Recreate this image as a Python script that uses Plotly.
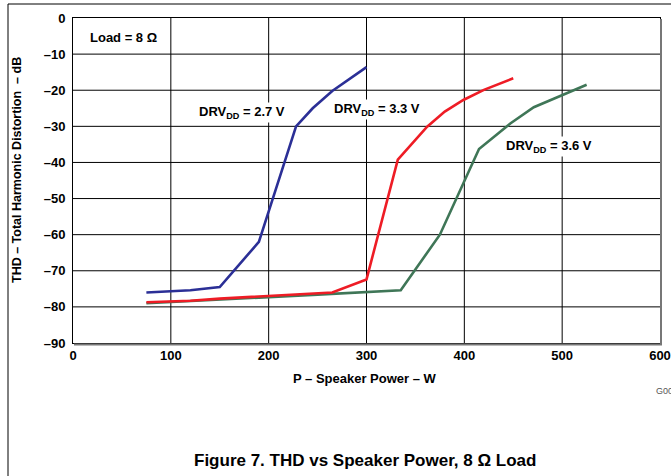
import plotly.graph_objects as go

# Data
x_27 = [75, 120, 150, 190, 228, 245, 265, 300]
y_27 = [-76, -75.4, -74.5, -62, -30, -25, -20.2, -13.6]

x_33 = [75, 120, 150, 200, 265, 300, 332, 362, 380, 399, 420, 450]
y_33 = [-78.7, -78.3, -77.7, -76.9, -76, -72.4, -39.2, -30.1, -25.9, -22.7, -19.9, -16.7]

x_36 = [75, 150, 200, 250, 300, 335, 375, 415, 447, 471, 498, 525]
y_36 = [-79, -78.1, -77.3, -76.6, -76, -75.4, -60, -36.3, -29.2, -24.7, -21.6, -18.5]

x_ticks = [0, 100, 200, 300, 400, 500, 600]
y_ticks = [0, -10, -20, -30, -40, -50, -60, -70, -80, -90]
y_ticktext = ["0" if v == 0 else "\u2013" + str(-v) for v in y_ticks]

W, H = 671, 476
L, R, T, B = 73, 11, 18, 133
pw, ph = W - L - R, H - T - B

def px(xp):
    return (xp - L) / pw

def py(yp):
    return 1 - (yp - T) / ph

FONT = "Liberation Sans, Arial, sans-serif"

fig = go.Figure()
fig.add_trace(go.Scatter(x=x_27, y=y_27, mode="lines", line=dict(color="#2b2f96", width=2.6), showlegend=False, hoverinfo="skip"))
fig.add_trace(go.Scatter(x=x_36, y=y_36, mode="lines", line=dict(color="#3f7657", width=2.6), showlegend=False, hoverinfo="skip"))
fig.add_trace(go.Scatter(x=x_33, y=y_33, mode="lines", line=dict(color="#ee1c25", width=2.6), showlegend=False, hoverinfo="skip"))

axis_common = dict(
    showgrid=False,
    showline=True, linecolor="black", linewidth=1, mirror=True,
    zeroline=False, ticks="", automargin=False, fixedrange=True,
    tickfont=dict(family=FONT, size=13, color="black", weight="bold"),
)

fig.update_xaxes(range=[0, 600], tickmode="array", tickvals=x_ticks, **axis_common)
fig.update_yaxes(range=[-90, 0], tickmode="array", tickvals=y_ticks, ticktext=y_ticktext, ticklabelstandoff=4, **axis_common)

anns = [
    dict(x=15, y=-5.5, text="<b>Load = 8 \u03a9</b>", xanchor="left", xref="x", yref="y"),
    dict(x=173, y=-26.3, text="<b>DRV<sub>DD</sub> = 2.7 V</b>", xanchor="center", xref="x", yref="y", bgcolor="white"),
    dict(x=311, y=-25.3, text="<b>DRV<sub>DD</sub> = 3.3 V</b>", xanchor="center", xref="x", yref="y", bgcolor="white"),
    dict(x=487, y=-35.6, text="<b>DRV<sub>DD</sub> = 3.6 V</b>", xanchor="center", xref="x", yref="y", bgcolor="white"),
]
for a in anns:
    fig.add_annotation(showarrow=False, font=dict(family=FONT, size=13, color="black"), **a)

# axis titles
fig.add_annotation(x=px(365), y=py(378), xref="paper", yref="paper", showarrow=False,
                   text="<b>P \u2013 Speaker Power \u2013 W</b>",
                   font=dict(family=FONT, size=13, color="black"), xanchor="center", yanchor="middle")
fig.add_annotation(x=px(17), y=py(170), xref="paper", yref="paper", showarrow=False, textangle=-90,
                   text="<b>THD \u2013 Total Harmonic Distortion\u00a0\u00a0\u2013 dB</b>",
                   font=dict(family=FONT, size=12.5, color="black"), xanchor="center", yanchor="middle")

fig.add_annotation(x=px(365), y=py(460), xref="paper", yref="paper", showarrow=False,
                   text="<b>Figure 7. THD vs Speaker Power, 8 \u03a9 Load</b>",
                   font=dict(family=FONT, size=17, color="black"), xanchor="center", yanchor="middle")
fig.add_annotation(x=px(654), y=py(391), xref="paper", yref="paper", showarrow=False,
                   text="G001", font=dict(family=FONT, size=9, color="#555555"),
                   xanchor="left", yanchor="middle")

shapes = []
# grid lines at tick positions
for v in x_ticks[1:-1]:
    shapes.append(dict(type="line", xref="x", yref="paper", x0=v, x1=v, y0=0, y1=1,
                       line=dict(color="black", width=1), layer="below"))
for v in y_ticks[1:-1]:
    shapes.append(dict(type="line", xref="paper", yref="y", x0=0, x1=1, y0=v, y1=v,
                       line=dict(color="black", width=1), layer="below"))
shapes += [
    # shadow on plot frame
    dict(type="line", xref="paper", yref="paper", x0=px(661), x1=px(661), y0=py(19), y1=py(345),
         line=dict(color="#777777", width=2)),
    dict(type="line", xref="paper", yref="paper", x0=px(74), x1=px(662), y0=py(344.5), y1=py(344.5),
         line=dict(color="#777777", width=2)),
    # outer page frame
    dict(type="line", xref="paper", yref="paper", x0=px(8), x1=px(671), y0=py(4), y1=py(4),
         line=dict(color="black", width=1)),
    dict(type="line", xref="paper", yref="paper", x0=px(8), x1=px(8), y0=py(4), y1=py(476),
         line=dict(color="black", width=1)),
]
fig.update_layout(
    width=W, height=H,
    margin=dict(l=L, r=R, t=T, b=B),
    paper_bgcolor="white", plot_bgcolor="white",
    shapes=shapes,
    font=dict(family=FONT, color="black"),
    hovermode=False,
)

fig.write_html("out.html", config={"displayModeBar": False},
               post_script="document.body.style.margin='0px';document.body.style.overflow='hidden';")
